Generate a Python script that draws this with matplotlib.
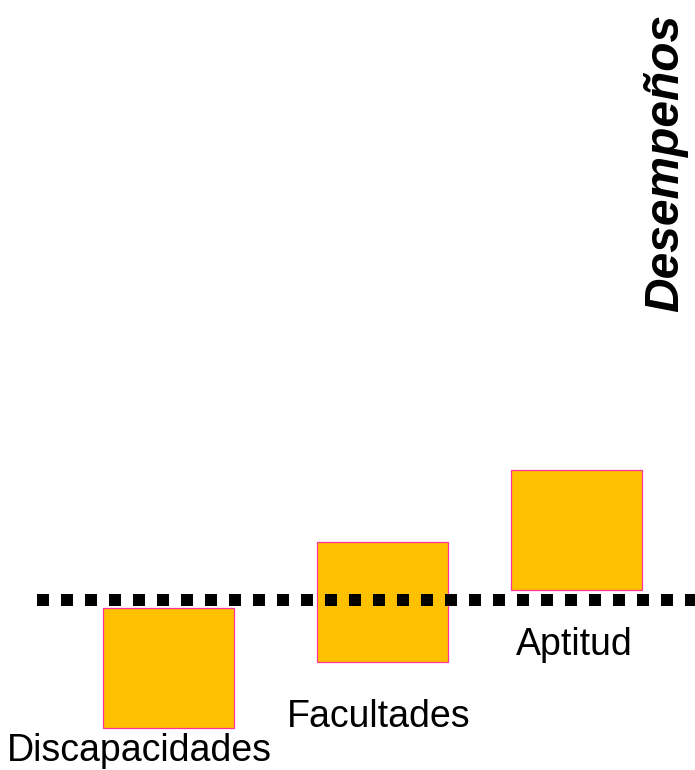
import matplotlib
matplotlib.use('Agg')
import matplotlib.pyplot as plt
from matplotlib.patches import Rectangle

# Diagram content (y measured upwards from the dotted reference line)
labels = ['Discapacidades', 'Facultades', 'Aptitud']
box_left = [103, 317, 511]
box_level = [-68, -2, 70]          # vertical centre of each box
label_x = [139, 379, 574]
label_y = [-161.5, -127.5, -55.5]  # text baseline
axis_title = 'Desempeños'

BOX_W, BOX_H = 131, 120
FILL = '#FFC000'
EDGE = '#FF3399'

fig = plt.figure(figsize=(6.95, 7.7), dpi=100)
ax = fig.add_axes([0, 0, 1, 1])
ax.set_xlim(0, 695)
ax.set_ylim(-170.5, 599.5)
ax.axis('off')

# dotted reference line
ax.plot([37, 695], [0, 0], color='black', linewidth=8.64,
        linestyle=(0, (1, 1)), solid_capstyle='butt', dash_capstyle='butt',
        zorder=3)

for left, level in zip(box_left, box_level):
    ax.add_patch(Rectangle((left, level - BOX_H / 2), BOX_W, BOX_H,
                           facecolor=FILL, edgecolor=EDGE, linewidth=0.9,
                           zorder=2))

for txt, x, y in zip(labels, label_x, label_y):
    ax.text(x, y, txt, ha='center', va='baseline', fontsize=27,
            family='Liberation Sans', color='black')

ax.text(666, 437, axis_title, rotation=90, ha='center', va='center',
        fontsize=34.5, fontweight='bold', fontstyle='italic',
        family='Liberation Sans', color='black')

fig.savefig('out.png', dpi=100)
